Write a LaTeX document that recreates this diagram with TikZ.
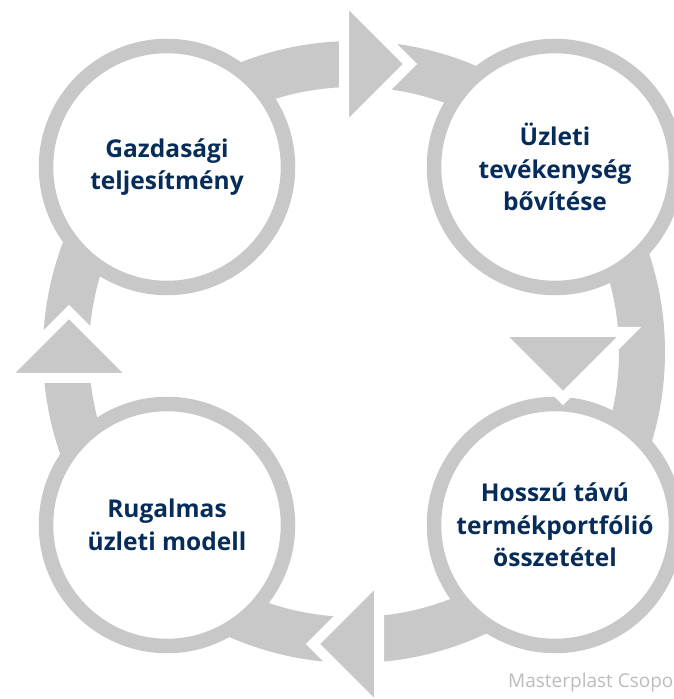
\documentclass[tikz,border=0pt]{standalone}
\usepackage{fontspec}
\setmainfont{Open Sans}
\definecolor{ringgrey}{RGB}{200,200,200}
\definecolor{navy}{RGB}{6,45,90}
\definecolor{notegrey}{RGB}{188,188,188}

\begin{document}
\begin{tikzpicture}[x=1pt,y=1pt,
	stage/.style={draw=ringgrey,line width=14.5pt,fill=white,circle,inner sep=0,outer sep=0,minimum size=242pt,text=navy,font=\bfseries\fontsize{24.5}{32.5}\selectfont,align=center},
	head/.style={fill=ringgrey,draw=white,line width=10pt}]
	\useasboundingbox (0,0) rectangle (673,699);
	\coordinate (mid) at (354,347);
	\draw[ringgrey,line width=46pt] (mid) circle (288);
	\node[stage] (gazd) at (167,532) {Gazdasági\\teljesítmény};
	\node[stage] (uzlet) at (555,532) {Üzleti\\tevékenység\\bővítése};
	\node[stage] (rugal) at (167,174) {Rugalmas\\üzleti modell};
	\node[stage] (hossz) at (555,174) {Hosszú távú\\termékportfólió\\összetétel};
	\draw[head] (344,701) -- (410,635) -- (344,569) -- cycle;
	\draw[head] (497,367) -- (629,367) -- (563,301) -- cycle;
	\draw[head] (379,121) -- (313,55) -- (379,-11) -- cycle;
	\draw[head] (3,321) -- (69,387) -- (135,321) -- cycle;
	\node[text=notegrey,anchor=base west,inner sep=0,font=\fontsize{19}{19}\selectfont] (forras) at (508,11) {Masterplast Csopo};
\end{tikzpicture}
\end{document}
